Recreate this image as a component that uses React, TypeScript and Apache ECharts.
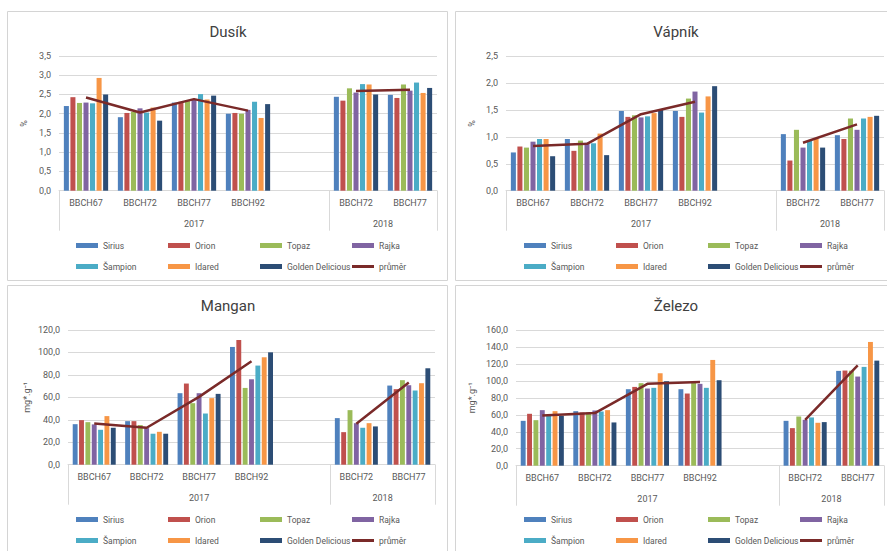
import React, { useEffect, useRef } from "react";
import * as echarts from "echarts";

const categories = ["BBCH67", "BBCH72", "BBCH77", "BBCH92", "", "BBCH72", "BBCH77"];
const yearLabels = ["2017", "2018"];
const varieties = ["Sirius", "Orion", "Topaz", "Rajka", "Šampion", "Idared", "Golden Delicious"];
const meanName = "průměr";
const titles = ["Dusík", "Vápník", "Mangan", "Železo"];
const unitNames = ["%", "%", "mg*.g⁻¹", "mg*.g⁻¹"];

// Dusík (%)
const dusikSirius = [2.2, 1.91, 2.29, 2.0, null, 2.44, 2.49];
const dusikOrion = [2.43, 2.02, 2.31, 2.02, null, 2.34, 2.41];
const dusikTopaz = [2.28, 2.05, 2.33, 2.0, null, 2.66, 2.76];
const dusikRajka = [2.29, 2.14, 2.37, 2.1, null, 2.55, 2.6];
const dusikSampion = [2.27, 2.03, 2.51, 2.31, null, 2.77, 2.81];
const dusikIdared = [2.93, 2.16, 2.37, 1.89, null, 2.76, 2.54];
const dusikGolden = [2.5, 1.82, 2.47, 2.25, null, 2.5, 2.67];
const dusikMean = [2.42, 2.03, 2.38, 2.08, null, 2.59, 2.62];

// Vápník (%)
const vapnikSirius = [0.71, 0.96, 1.48, 1.48, null, 1.05, 1.03];
const vapnikOrion = [0.82, 0.74, 1.37, 1.37, null, 0.56, 0.96];
const vapnikTopaz = [0.8, 0.93, 1.4, 1.71, null, 1.13, 1.34];
const vapnikRajka = [0.91, 0.89, 1.36, 1.84, null, 0.8, 1.13];
const vapnikSampion = [0.96, 0.88, 1.38, 1.45, null, 0.94, 1.34];
const vapnikIdared = [0.96, 1.06, 1.44, 1.75, null, 0.97, 1.37];
const vapnikGolden = [0.64, 0.66, 1.5, 1.94, null, 0.8, 1.39];
const vapnikMean = [0.83, 0.87, 1.42, 1.65, null, 0.89, 1.23];

// Mangan (mg*.g-1)
const manganSirius = [36.1, 38.8, 63.7, 104.9, null, 41.5, 70.5];
const manganOrion = [39.7, 38.8, 72.3, 111.1, null, 29.0, 67.3];
const manganTopaz = [37.9, 35.3, 54.8, 68.4, null, 48.6, 75.3];
const manganRajka = [35.9, 32.6, 63.7, 76.1, null, 37.0, 70.8];
const manganSampion = [31.1, 27.6, 45.6, 88.3, null, 32.9, 66.1];
const manganIdared = [43.3, 29.3, 59.3, 95.7, null, 37.0, 72.6];
const manganGolden = [32.9, 27.6, 63.1, 100.1, null, 34.1, 85.9];
const manganMean = [36.7, 32.9, 60.4, 92.1, null, 36.4, 73.2];

// Železo (mg*.g-1)
const zelezoSirius = [52.9, 64.3, 90.2, 90.2, null, 52.9, 111.8];
const zelezoOrion = [61.2, 62.7, 92.9, 85.1, null, 44.3, 112.2];
const zelezoTopaz = [53.7, 62.7, 97.3, 98.8, null, 58.0, 112.0];
const zelezoRajka = [65.5, 65.1, 91.0, 96.5, null, 54.1, 105.1];
const zelezoSampion = [59.2, 63.9, 91.8, 91.8, null, 56.9, 116.5];
const zelezoIdared = [64.3, 65.5, 109.0, 124.7, null, 50.6, 145.9];
const zelezoGolden = [58.8, 51.0, 99.6, 100.8, null, 51.4, 123.9];
const zelezoMean = [59.2, 62.0, 96.5, 98.8, null, 54.1, 118.4];

const yMax = [3.5, 2.5, 120, 160];
const yStep = [0.5, 0.5, 20, 20];

const panelBars = [
  [dusikSirius, dusikOrion, dusikTopaz, dusikRajka, dusikSampion, dusikIdared, dusikGolden],
  [vapnikSirius, vapnikOrion, vapnikTopaz, vapnikRajka, vapnikSampion, vapnikIdared, vapnikGolden],
  [manganSirius, manganOrion, manganTopaz, manganRajka, manganSampion, manganIdared, manganGolden],
  [zelezoSirius, zelezoOrion, zelezoTopaz, zelezoRajka, zelezoSampion, zelezoIdared, zelezoGolden],
];
const panelMeans = [dusikMean, vapnikMean, manganMean, zelezoMean];

const colors = ["#4F81BD", "#C0504D", "#9BBB59", "#8064A2", "#4BACC6", "#F79646", "#2C4D75"];
const meanColor = "#7A2A29";

const FONT = "Roboto, 'Noto Sans', sans-serif";
const TXT = "#595959";
const GRID_LINE = "#d9d9d9";

// layout
const panels = [
  { x: 7, y: 11, h: 269 },
  { x: 455, y: 11, h: 269 },
  { x: 7, y: 285, h: 280 },
  { x: 455, y: 285, h: 280 },
];
const grids = [
  { left: 59, top: 56, width: 378, height: 134.7 },
  { left: 506, top: 56, width: 378, height: 134.7 },
  { left: 68, top: 330, width: 367, height: 134.7 },
  { left: 516, top: 330, width: 368, height: 135.7 },
];
const nameGaps = [31, 30, 37, 40];
const legendCols = [69, 161, 253, 345];
const legendRows = [236, 257];

function fmt(v: number) {
  return v.toFixed(1).replace(".", ",");
}

function buildOption() {
  const grid: any[] = [];
  const xAxis: any[] = [];
  const yAxis: any[] = [];
  const series: any[] = [];
  const legend: any[] = [];
  const graphic: any[] = [];

  panels.forEach((p, i) => {
    graphic.push({
      type: "rect",
      z: -10,
      shape: { x: p.x + 0.5, y: p.y + 0.5, width: 440, height: p.h },
      style: { fill: "#fff", stroke: "#d4d4d4", lineWidth: 1 },
    });
    graphic.push({
      type: "text",
      x: (p.x === 7 ? 228 : 676),
      y: p.y + 21,
      style: {
        text: titles[i],
        font: `15px ${FONT}`,
        fill: "#404040",
        textAlign: "center",
        textVerticalAlign: "middle",
      },
    });

    grid.push({ ...grids[i], containLabel: false });

    xAxis.push({
      type: "category",
      gridIndex: i,
      data: categories,
      boundaryGap: true,
      axisLine: { show: true, lineStyle: { color: GRID_LINE, width: 1 } },
      axisTick: { show: false },
      axisLabel: { interval: 0, fontSize: 9, color: TXT, fontFamily: FONT, margin: 8 },
      splitLine: { show: false },
    });
    xAxis.push({
      type: "value",
      gridIndex: i,
      position: "bottom",
      min: 0,
      max: categories.length,
      axisLine: { show: false },
      splitLine: { show: false },
      axisTick: {
        show: true,
        customValues: [0, 5, categories.length],
        length: 40,
        lineStyle: { color: GRID_LINE, width: 1 },
      },
      axisLabel: {
        customValues: [2.5, 6],
        formatter: (v: number) => (v === 2.5 ? yearLabels[0] : v === 6 ? yearLabels[1] : ""),
        fontSize: 9,
        color: TXT,
        fontFamily: FONT,
        margin: 29,
      },
    });
    yAxis.push({
      type: "value",
      gridIndex: i,
      min: 0,
      max: yMax[i],
      interval: yStep[i],
      axisLine: { show: false },
      axisTick: { show: false },
      splitLine: { show: true, lineStyle: { color: GRID_LINE, width: 1 } },
      axisLabel: { formatter: fmt, fontSize: 9, color: TXT, fontFamily: FONT, margin: 8 },
      name: unitNames[i],
      nameLocation: "middle",
      nameGap: nameGaps[i],
      nameRotate: 90,
      nameTextStyle: { fontSize: 9, color: TXT, fontFamily: FONT },
    });

    varieties.forEach((name, k) => {
      series.push({
        type: "bar",
        name,
        xAxisIndex: i * 2,
        yAxisIndex: i,
        data: panelBars[i][k],
        itemStyle: { color: colors[k] },
        barCategoryGap: "18%",
        barGap: "30%",
      });
    });
    series.push({
      type: "line",
      name: meanName,
      xAxisIndex: i * 2,
      yAxisIndex: i,
      data: panelMeans[i],
      connectNulls: false,
      symbol: "none",
      lineStyle: { color: meanColor, width: 2.5 },
      itemStyle: { color: meanColor },
      z: 5,
    });

    const allNames = [...varieties, meanName];
    allNames.forEach((name, k) => {
      const col = k % 4;
      const row = Math.floor(k / 4);
      legend.push({
        left: p.x + legendCols[col],
        top: p.y + legendRows[row] - 6,
        padding: 0,
        itemGap: 0,
        itemWidth: 22,
        itemHeight: k < 7 ? 5 : 3,
        data: [{ name, icon: "rect" }],
        textStyle: { fontSize: 8.5, color: TXT, fontFamily: FONT },
        selectedMode: false,
      });
    });
  });

  return {
    animation: false,
    backgroundColor: "#ffffff",
    textStyle: { fontFamily: FONT },
    grid,
    xAxis,
    yAxis,
    series,
    legend,
    graphic,
  };
}

export default function App() {
  const ref = useRef<HTMLDivElement | null>(null);
  useEffect(() => {
    if (!ref.current) return;
    const chart = echarts.init(ref.current, undefined, { renderer: "svg" });
    chart.setOption(buildOption() as any);
    return () => chart.dispose();
  }, []);
  return (
    <div
      ref={ref}
      style={{ position: "absolute", left: 0, top: 0, width: 887, height: 551, background: "#fff" }}
    />
  );
}
